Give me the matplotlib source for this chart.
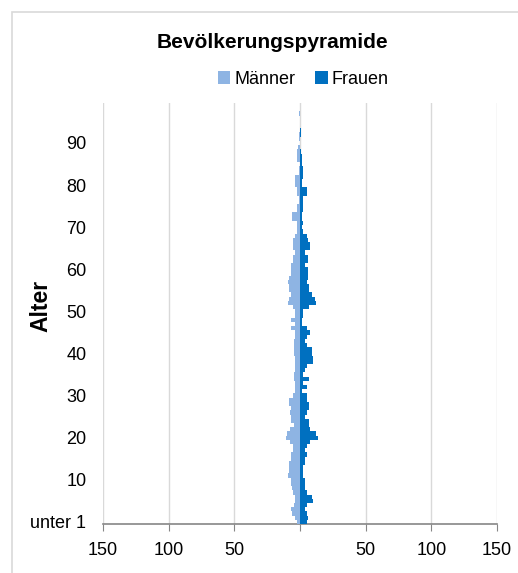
import matplotlib
matplotlib.use("Agg")
import matplotlib.pyplot as plt
from matplotlib.patches import Rectangle

plt.rcParams['font.family'] = ['Liberation Sans', 'DejaVu Sans']

# Alter 0 .. 99
ages = list(range(100))
maenner = [2.5, 4, 6, 7, 4.5, 4, 4, 5, 6, 7,
           6.5, 9, 8.5, 8.5, 8.5, 7, 7, 5, 5, 7.5,
           11, 10, 7.5, 4.5, 6.5, 6.5, 7.5, 6.5, 8.5, 8,
           5, 4, 4, 3.5, 4.5, 4.5, 4, 4, 4, 4,
           4.5, 4.5, 4.5, 4.5, 4, 4, 6.5, 4, 6.5, 3.5,
           3.5, 5, 9, 8.5, 7, 8, 8, 9, 8, 7,
           7, 6.5, 5, 5, 3.5, 5, 5, 5, 4, 2,
           2, 2.5, 6, 6, 2, 2, 0.5, 0.5, 2.5, 2.5,
           3.5, 3.5, 3.5, 0.5, 0.5, 0, 2.5, 2.5, 2.5, 1.5,
           0, 1, 1, 0, 0, 0, 0, 1, 0, 0]
frauen = [5, 6, 5, 4, 5, 10, 9, 5, 4, 4,
          3.5, 2.5, 2.5, 2.5, 4, 4, 5, 4, 5, 7.5,
          14, 12.5, 7.5, 6.5, 6.5, 4, 5, 6.5, 6.5, 5,
          5, 1.5, 5, 2.5, 6.5, 2.5, 4, 5, 10, 10,
          9, 9, 5, 4, 5, 7.5, 5, 1.5, 1.5, 2.5,
          2.5, 6.5, 12.5, 11.5, 9, 6.5, 6.5, 5, 6, 6,
          6, 4, 6, 6, 4, 7.5, 7.5, 6, 5, 2,
          1.5, 2, 1.5, 1.5, 2.5, 2.5, 2.5, 2.5, 5, 5,
          1.5, 1.5, 2.5, 2.5, 2, 1.5, 1.5, 1.5, 1, 0,
          0, 0, 0.5, 0.5, 0, 0, 0, 0, 0, 0]

x_ticks = [-150, -100, -50, 0, 50, 100, 150]
x_labels = ['150', '100', '50', '', '50', '100', '150']
y_ticks = [0, 10, 20, 30, 40, 50, 60, 70, 80, 90]
y_labels = ['unter 1', '10', '20', '30', '40', '50', '60', '70', '80', '90']

W, H = 518, 573
fig = plt.figure(figsize=(W / 100, H / 100), dpi=100)
ax = fig.add_axes([103 / W, 1 - 524 / H, (497 - 103) / W, (524 - 103) / H])

c_m = '#8EB4E3'
c_f = '#0070C0'
ax.barh(ages, [-v for v in maenner], height=1.0, color=c_m, label='Männer', zorder=3)
ax.barh(ages, frauen, height=1.0, color=c_f, label='Frauen', zorder=3)

ax.set_xlim(-150, 150)
ax.set_ylim(-0.5, 99.5)
ax.set_xticks(x_ticks)
ax.set_xticklabels(x_labels, fontsize=13)
ax.set_yticks(y_ticks)
ax.set_yticklabels(y_labels, fontsize=13)
ax.tick_params(axis='y', length=0, pad=12)
ax.tick_params(axis='x', length=5, color='#868686', pad=8)
ax.grid(axis='x', color='#D9D9D9', linewidth=1, zorder=0)
for s in ['top', 'right', 'left']:
    ax.spines[s].set_visible(False)
ax.spines['bottom'].set_color('#868686')
ax.spines['bottom'].set_linewidth(1.2)

fig.text(272 / W, 1 - 43 / H, 'Bevölkerungspyramide', ha='center', va='center',
         fontsize=15, fontweight='bold')
fig.text(41 / W, 1 - 306 / H, 'Alter', rotation=90, ha='center', va='center',
         fontsize=16.5, fontweight='bold')

fig.legend(loc='center', bbox_to_anchor=(303 / W, 1 - 79 / H), ncol=2, frameon=False,
           fontsize=13, handlelength=0.7, handleheight=0.7, handletextpad=0.2,
           columnspacing=1.1, borderpad=0)

fig.add_artist(Rectangle((12 / W, -0.1), 1.2, 1.1 - 12 / H, transform=fig.transFigure,
                         fill=False, edgecolor='#D9D9D9', linewidth=1.2))

fig.savefig('out.png', dpi=100)
